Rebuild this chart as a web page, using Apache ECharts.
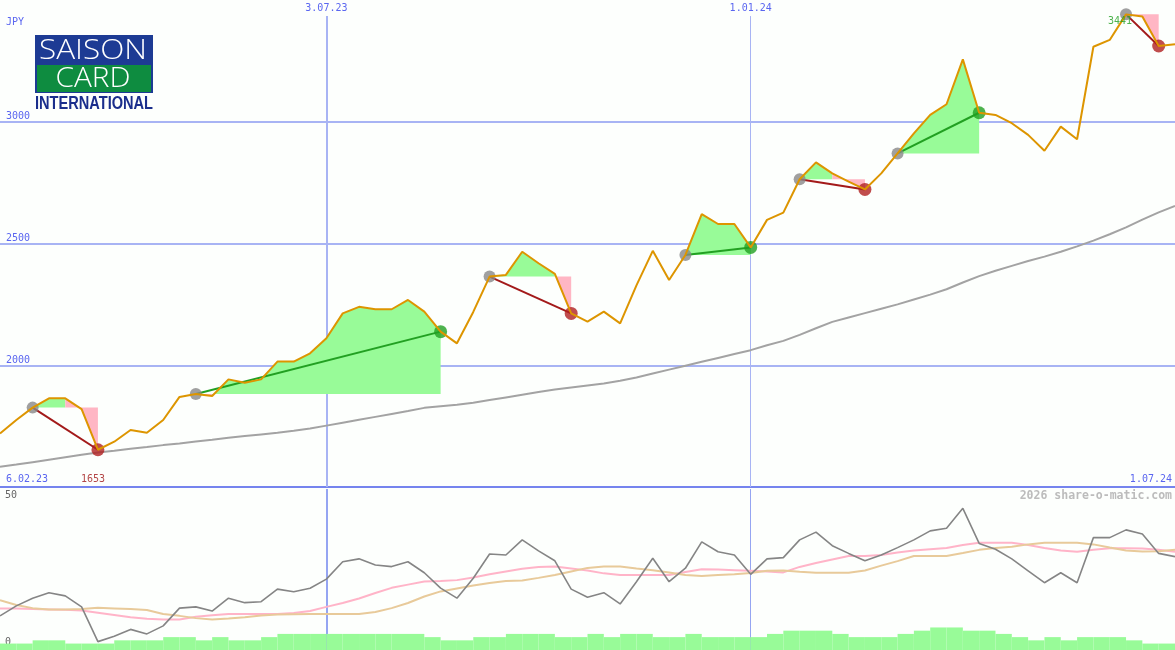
<!DOCTYPE html>
<html><head><meta charset="utf-8">
<script src="https://cdn.jsdelivr.net/npm/echarts@6/dist/echarts.min.js"></script>
<style>html,body{margin:0;padding:0;background:#fdfffd}#c{width:1175px;height:650px}</style>
</head><body><div id="c"></div>
<script>
// ---- data ----
const startLabel = '6.02.23';
const endLabel = '1.07.24';
const tickIdx = [20, 46];
const tickLabels = ['3.07.23', '1.01.24'];
const priceTicks = [2000, 2500, 3000];
const oscTicks = [0, 50];
const currency = 'JPY';
const watermark = '2026 share-o-matic.com';

const price = [1720,1775,1826,1864,1864,1820,1653,1686,1734,1723,
  1775,1870,1882,1874,1942,1928,1942,2015,2015,2049,
  2111,2213,2240,2230,2230,2268,2220,2138,2090,2219,
  2364,2371,2466,2419,2375,2213,2179,2220,2172,2328,
  2470,2350,2453,2621,2580,2580,2484,2597,2627,2764,
  2833,2788,2754,2722,2788,2870,2952,3028,3072,3256,
  3037,3028,2994,2946,2881,2980,2928,3308,3336,3441,
  3432,3311,3318];
const priceMA = [1583,1592,1602,1612,1622,1632,1642,1649,1657,1664,
  1672,1679,1687,1694,1702,1709,1716,1723,1731,1740,
  1752,1764,1776,1788,1800,1812,1825,1832,1838,1846,
  1857,1868,1879,1890,1900,1909,1917,1925,1936,1950,
  1966,1982,1998,2014,2030,2046,2062,2082,2100,2125,
  2152,2178,2196,2214,2232,2250,2270,2290,2312,2340,
  2366,2388,2408,2428,2446,2466,2488,2512,2538,2566,
  2598,2628,2654];
const tradeEntry = [2, 12, 30, 42, 49, 55, 69];
const tradeExit  = [6, 27, 35, 46, 53, 60, 71];

const osc = [10.6,13.7,16.1,17.8,16.8,13.4,2.6,4.3,6.4,5.0,
  7.5,13.0,13.4,12.1,16.1,14.7,15.0,18.9,18.1,19.2,
  22.0,27.4,28.3,26.4,25.9,27.4,24.0,19.2,16.1,22.3,
  29.8,29.5,34.2,30.8,27.7,18.9,16.4,17.8,14.3,21.2,
  28.5,21.2,25.4,33.6,30.5,29.5,23.5,28.3,28.7,34.2,
  36.6,32.4,30.0,27.7,29.5,31.8,34.2,37.0,37.8,44.0,
  33.1,31.3,28.3,24.6,20.9,24.0,20.9,34.9,34.9,37.3,
  36.0,30.0,29.0];
const oscFast = [12.9,12.9,12.7,12.6,12.5,12.3,11.6,10.9,10.2,9.7,
  9.5,9.5,10.3,10.8,11.2,11.2,11.2,11.2,11.5,12.1,
  13.4,14.6,16.0,17.7,19.3,20.3,21.3,21.4,21.7,22.5,
  23.5,24.4,25.2,25.8,25.9,25.3,24.7,23.8,23.3,23.3,
  23.3,23.3,24.2,25.1,25.0,24.8,24.6,24.4,24.1,25.8,
  27.0,28.1,29.2,29.2,29.5,30.3,30.9,31.3,31.7,32.6,
  33.3,33.3,33.3,32.6,31.7,30.9,30.5,31.1,31.6,31.6,
  31.5,31.1,30.5];
const oscSlow = [15.5,14.0,13.0,12.6,12.6,12.7,13.1,12.9,12.7,12.4,
  11.2,10.6,9.9,9.5,9.8,10.2,10.7,11.0,11.1,11.2,
  11.2,11.2,11.2,11.8,13.0,14.6,16.6,18.2,19.1,20.0,
  20.8,21.4,21.6,22.4,23.3,24.4,25.5,25.9,25.9,25.3,
  24.8,24.1,23.3,23.0,23.3,23.5,23.9,24.6,24.7,24.3,
  24.0,24.0,24.0,24.7,26.2,27.6,29.2,29.2,29.2,30.1,
  31.1,31.7,32.1,32.8,33.3,33.3,33.3,32.8,31.8,30.9,
  30.6,30.7,31.1];
const vol = [2,2,3,3,2,2,2,3,3,3, 4,4,3,4,3,3,4,5,5,5,
  5,5,5,5,5,5,4,3,3,4, 4,5,5,5,4,4,5,4,5,5,
  4,4,5,4,4,4,4,5,6,6, 6,5,4,4,4,5,6,7,7,6,
  6,5,4,3,4,3,4,4,4,3, 2,2];

// ---- styles ----
const BLUE_TXT = '#5a66f0';
const GRID_C = '#a8b4f4';
const MONO = '"DejaVu Sans Mono", monospace';
const GREEN_FILL = '#98fb98', PINK_FILL = '#ffb6c4';

const nWeeks = price.length - 1;
const pts = a => a.map((v, i) => [i, v]);

// fill blocks: between price and entry level, coloured by each step's end vs entry
const fillBlocks = [];
tradeEntry.forEach((s, t) => {
  const e = tradeExit[t], level = price[s];
  let bs = s, col = null;
  for (let i = s; i < e; i++) {
    const c = price[i + 1] >= level ? 1 : 0;
    if (col === null) { col = c; bs = i; }
    else if (c !== col) { fillBlocks.push([bs, i, level, col]); bs = i; col = c; }
  }
  fillBlocks.push([bs, e, level, col]);
});

let minI = 0, maxI = 0;
price.forEach((v, i) => { if (v < price[minI]) minI = i; if (v > price[maxI]) maxI = i; });

function fitScale(text, font, w) {
  const ctx = document.createElement('canvas').getContext('2d');
  ctx.font = font;
  return w / ctx.measureText(text).width;
}

const chart = echarts.init(document.getElementById('c'), null, {renderer: 'canvas'});
const fSaison = '300 27px "Open Sans", "DejaVu Sans", sans-serif';
const fCard = '300 27px "Open Sans", "DejaVu Sans", sans-serif';
const fIntl = 'bold 18px "Liberation Sans Narrow", "Liberation Sans", sans-serif';
const txtC = (t, x, y, font, fill, w) => ({type: 'text', z: 11, x: x, y: y,
  scaleX: fitScale(t, font, w), originX: 0, originY: 0,
  style: {text: t, fill: fill, font: font, align: 'center', verticalAlign: 'middle', textAlign: 'center', textVerticalAlign: 'middle'}});

chart.setOption({
  animation: false,
  backgroundColor: '#fdfffd',
  grid: [
    {left: 0, right: 0, top: 0, height: 487, outerBoundsMode: 'none', containLabel: false},
    {left: 0, right: 0, top: 489, height: 161, outerBoundsMode: 'none', containLabel: false}
  ],
  xAxis: [
    {gridIndex: 0, type: 'value', min: 0, max: nWeeks, interval: 2, position: 'top',
      axisLine: {show: false}, axisTick: {show: false}, splitLine: {show: false},
      axisLabel: {inside: true, margin: 3, verticalAlign: 'top', color: BLUE_TXT, fontFamily: MONO, fontSize: 10,
        showMinLabel: false, showMaxLabel: false,
        formatter: v => { const k = tickIdx.indexOf(v); return k >= 0 ? tickLabels[k] : ''; }}},
    {gridIndex: 1, type: 'value', min: 0, max: nWeeks, show: false}
  ],
  yAxis: [
    {gridIndex: 0, type: 'value', min: 1500, max: 3500, interval: 500,
      name: currency, nameLocation: 'end', nameGap: -22,
      nameTextStyle: {color: BLUE_TXT, fontFamily: MONO, fontSize: 10, align: 'left', verticalAlign: 'middle', padding: [0, 0, 0, 6]},
      axisLine: {show: false}, axisTick: {show: false}, splitLine: {show: false},
      axisLabel: {inside: true, margin: 6, verticalAlign: 'bottom', color: BLUE_TXT, fontFamily: MONO, fontSize: 10,
        formatter: v => priceTicks.includes(v) ? String(v) : ''}},
    {gridIndex: 1, type: 'value', min: 0, max: 50, interval: 50,
      axisLine: {show: false}, axisTick: {show: false}, splitLine: {show: false},
      axisLabel: {inside: true, margin: 5, color: '#666', fontFamily: MONO, fontSize: 10,
        formatter: v => oscTicks.includes(v) ? (v === 50 ? '{t|50}' : '{b|0}') : '',
        rich: {t: {padding: [13, 0, 0, 0], color: '#666', fontFamily: MONO, fontSize: 10},
               b: {padding: [0, 0, 15, 0], color: '#666', fontFamily: MONO, fontSize: 10}}}}
  ],
  series: [
    // grid lines (main)
    {type: 'line', xAxisIndex: 0, yAxisIndex: 0, data: [], silent: true,
      markLine: {silent: true, symbol: ['none', 'none'], label: {show: false}, z: 0, animation: false,
        data: [
          {yAxis: 2000, lineStyle: {color: GRID_C, width: 2, type: 'solid'}},
          {yAxis: 2500, lineStyle: {color: GRID_C, width: 2, type: 'solid'}},
          {yAxis: 3000, lineStyle: {color: GRID_C, width: 2, type: 'solid'}},
          {yAxis: 1500, lineStyle: {color: '#7584ee', width: 2, type: 'solid'}},
          [{coord: [tickIdx[0], 3434], lineStyle: {color: GRID_C, width: 2, type: 'solid'}}, {coord: [tickIdx[0], 1500]}],
          [{coord: [tickIdx[1], 3434], lineStyle: {color: GRID_C, width: 1, type: 'solid'}}, {coord: [tickIdx[1], 1500]}]
        ]}},
    // fills
    {type: 'custom', xAxisIndex: 0, yAxisIndex: 0, silent: true, z: 1,
      data: fillBlocks, encode: {x: [0, 1], y: 2},
      renderItem: (params, api) => {
        const b = fillBlocks[params.dataIndex];
        const p = [];
        for (let i = b[0]; i <= b[1]; i++) p.push(api.coord([i, price[i]]));
        p.push(api.coord([b[1], b[2]]));
        p.push(api.coord([b[0], b[2]]));
        return {type: 'polygon', shape: {points: p}, style: {fill: b[3] ? GREEN_FILL : PINK_FILL}};
      }},
    // long moving average
    {type: 'line', xAxisIndex: 0, yAxisIndex: 0, data: pts(priceMA), showSymbol: false, silent: true, z: 2,
      lineStyle: {color: '#a3a3a3', width: 2}},
    // trade lines
    {type: 'lines', coordinateSystem: 'cartesian2d', xAxisIndex: 0, yAxisIndex: 0, silent: true, z: 3,
      lineStyle: {width: 2, opacity: 1},
      data: tradeEntry.map((s, t) => {
        const e = tradeExit[t];
        return {coords: [[s, price[s]], [e, price[e]]], lineStyle: {color: price[e] >= price[s] ? '#22a022' : '#a31a1a'}};
      })},
    // entry dots
    {type: 'scatter', xAxisIndex: 0, yAxisIndex: 0, silent: true, z: 4, symbolSize: 12,
      itemStyle: {color: '#888888'}, data: tradeEntry.map(s => [s, price[s]])},
    // exit dots
    {type: 'scatter', xAxisIndex: 0, yAxisIndex: 0, silent: true, z: 4, symbolSize: 13,
      data: tradeEntry.map((s, t) => {
        const e = tradeExit[t];
        return {value: [e, price[e]], itemStyle: {color: price[e] >= price[s] ? '#22a022' : '#b02020'}};
      })},
    // price line
    {type: 'line', xAxisIndex: 0, yAxisIndex: 0, data: pts(price), showSymbol: false, silent: true, z: 5,
      lineStyle: {color: '#dd9500', width: 2}},
    // min / max labels
    {type: 'scatter', xAxisIndex: 0, yAxisIndex: 0, silent: true, z: 6, symbolSize: 1,
      itemStyle: {color: 'rgba(0,0,0,0)'},
      data: [
        {value: [minI, 1500], label: {show: true, position: 'inside', offset: [-5, -8], formatter: String(price[minI]), color: '#a01818', fontFamily: MONO, fontSize: 10}},
        {value: [maxI, price[maxI]], label: {show: true, position: 'inside', offset: [-6, 7], formatter: String(price[maxI]), color: '#22a022', fontFamily: MONO, fontSize: 10}}
      ]},
    // lower panel grid lines
    {type: 'line', xAxisIndex: 1, yAxisIndex: 1, data: [], silent: true,
      markLine: {silent: true, symbol: ['none', 'none'], label: {show: false}, z: 0, animation: false,
        data: [
          {xAxis: tickIdx[0], lineStyle: {color: '#95a5f2', width: 2, type: 'solid'}},
          {xAxis: tickIdx[1], lineStyle: {color: '#95a5f2', width: 1, type: 'solid'}}
        ]}},
    // volume-like bars
    {type: 'custom', xAxisIndex: 1, yAxisIndex: 1, silent: true, z: 1,
      data: vol.map((v, k) => [k, v]), encode: {x: 0, y: 1},
      renderItem: (params, api) => {
        const k = api.value(0), v = api.value(1);
        const a = api.coord([k, v]), b = api.coord([k + 1, 0]);
        return {type: 'rect', shape: {x: a[0], y: a[1], width: b[0] - a[0], height: b[1] - a[1]}, style: {fill: GREEN_FILL}};
      }},
    {type: 'line', xAxisIndex: 1, yAxisIndex: 1, data: pts(oscFast), showSymbol: false, silent: true, z: 2,
      lineStyle: {color: '#ffb4c8', width: 2}},
    {type: 'line', xAxisIndex: 1, yAxisIndex: 1, data: pts(oscSlow), showSymbol: false, silent: true, z: 2,
      lineStyle: {color: '#e8ca9a', width: 2}},
    {type: 'line', xAxisIndex: 1, yAxisIndex: 1, data: pts(osc), showSymbol: false, silent: true, z: 3,
      lineStyle: {color: '#858585', width: 1.6}}
  ],
  graphic: [
    {type: 'text', x: 6, y: 479, z: 10, style: {text: startLabel, fill: BLUE_TXT, font: '10px ' + MONO, align: 'left', verticalAlign: 'middle', textAlign: 'left', textVerticalAlign: 'middle'}},
    {type: 'text', x: 1172, y: 479, z: 10, style: {text: endLabel, fill: BLUE_TXT, font: '10px ' + MONO, align: 'right', verticalAlign: 'middle', textAlign: 'right', textVerticalAlign: 'middle'}},
    {type: 'text', x: 1172, y: 496, z: 10, style: {text: watermark, fill: '#bcbcbc', font: 'bold 11.5px ' + MONO, align: 'right', verticalAlign: 'middle', textAlign: 'right', textVerticalAlign: 'middle'}},
    // logo
    {type: 'rect', z: 10, shape: {x: 35, y: 35, width: 118, height: 58}, style: {fill: '#1d3b94'}},
    {type: 'rect', z: 10, shape: {x: 37, y: 65, width: 114, height: 27}, style: {fill: '#0e8c40'}},
    txtC('SAISON', 93, 51, fSaison, '#ffffff', 108),
    txtC('CARD', 93, 79, fCard, '#ffffff', 75),
    txtC('INTERNATIONAL', 94, 104.5, fIntl, '#1a2e8c', 118)
  ]
});
</script></body></html>
